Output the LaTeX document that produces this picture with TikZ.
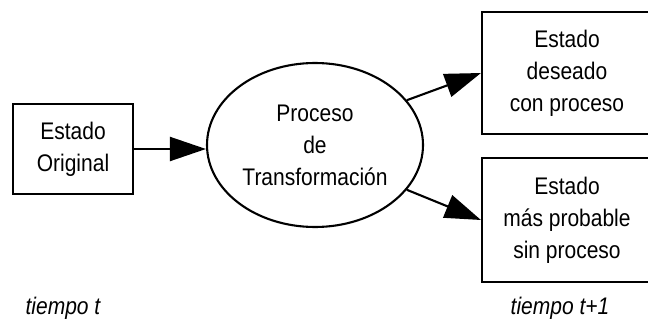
\documentclass[tikz,border=0pt]{standalone}
\usepackage{fontspec}
\setmainfont{Liberation Sans}[FakeStretch=0.875]
\usetikzlibrary{shapes.geometric,arrows.meta}
\begin{document}
\begin{tikzpicture}[x=1pt,y=-1pt,
  lbl/.style={font=\fontsize{24}{32}\selectfont, align=center, inner sep=0pt},
  boxnode/.style={draw, line width=2.1pt, rectangle, inner sep=0pt, lbl},
  ellnode/.style={draw, line width=2.1pt, ellipse, inner sep=0pt, lbl},
  conn/.style={line width=2.1pt, -{Triangle[length=36pt,width=24pt]}},
  timelbl/.style={font=\fontsize{24}{32}\selectfont\itshape, inner sep=0pt, anchor=base}]
\path[use as bounding box] (0,0) rectangle (648,324);
\clip (0,0) rectangle (648,324);
\node[boxnode, minimum width=120pt, minimum height=90pt] (orig) at (73,149) {Estado\\Original};
\node[ellnode, minimum width=216pt, minimum height=164pt] (proc) at (315,145) {Proceso\\de\\Transformación};
\node[boxnode, minimum width=170pt, minimum height=122pt] (des) at (567,73) {Estado\\deseado\\con proceso};
\node[boxnode, minimum width=170pt, minimum height=124pt] (prob) at (567,220) {Estado\\más probable\\sin proceso};
\draw[conn] (orig.east) -- (proc.west |- orig.east);
\draw[conn] (proc.26) -- (des.west);
\draw[conn] (proc.-26) -- (prob.west);
\node[timelbl] (t0) at (63,314) {tiempo t};
\node[timelbl] (t1) at (560,314) {tiempo t+1};
\end{tikzpicture}
\end{document}
